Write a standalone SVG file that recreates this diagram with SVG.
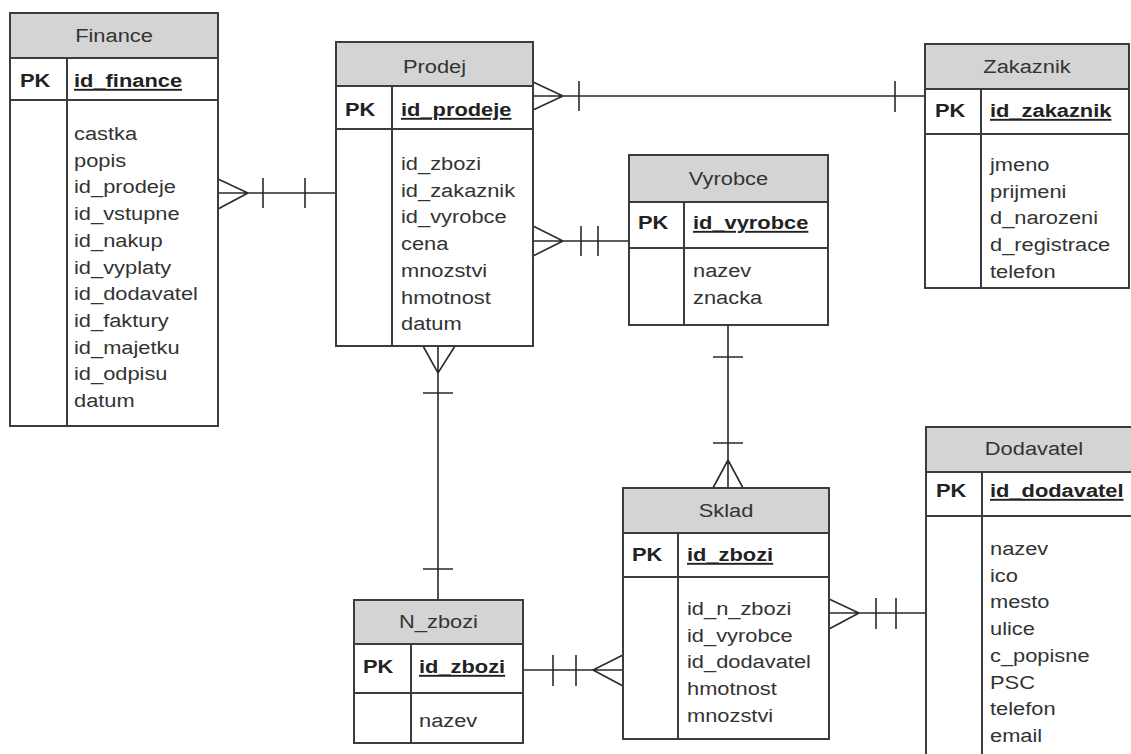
<svg xmlns="http://www.w3.org/2000/svg" width="1131" height="754" viewBox="0 0 1131 754">
<style>
.box{fill:#fff;stroke:#3c3c3c;stroke-width:2}
.hdr{fill:#d4d4d4;stroke:#3c3c3c;stroke-width:2}
.ln{stroke:#3c3c3c;stroke-width:2;fill:none}
text{font-family:"Liberation Sans",Arial,sans-serif;font-size:19px;fill:#333}
.t{text-anchor:middle}
.pk{font-weight:bold;fill:#222}
.key{font-weight:bold;fill:#222;text-decoration:underline}
.c{stroke:#2a2a2a;stroke-width:1.6;fill:none}
</style>
<rect width="1131" height="754" fill="#fff"/>
<g id="connectors">
<path class="c" d="M218,193H336M218,179L248,193L218,209M263,178V208M305,178V208"/>
<path class="c" d="M533,96H925M533,82L563,96L533,110M579,81V111M895,81V112"/>
<path class="c" d="M533,241H629M533,226L563,241L533,256M581,226V256M598,226V256"/>
<path class="c" d="M438,346V600M423,346L438,373L455,346M423,393H453M423,569H453"/>
<path class="c" d="M728,325V488M713,357H743M713,443H743M713,488L728,460L743,488"/>
<path class="c" d="M523,670H623M553,655V686M576,655V686M623,655L593,670L623,686"/>
<path class="c" d="M829,613H927M829,599L859,613L829,629M876,598V629M896,598V629"/>
</g>
<g id="Finance">
<rect class="box" x="10" y="13" width="208" height="413"/>
<rect class="hdr" x="10" y="13" width="208" height="45"/>
<path class="ln" d="M10,100H218M67,58V426"/>
<text class="t" transform="translate(114,42) scale(1.15,1)">Finance</text>
<text class="pk" transform="translate(20,87) scale(1.15,1)">PK</text>
<text class="key" transform="translate(74,87) scale(1.15,1)">id_finance</text>
<text transform="translate(74,140) scale(1.15,1)">castka</text>
<text transform="translate(74,166.7) scale(1.15,1)">popis</text>
<text transform="translate(74,193.4) scale(1.15,1)">id_prodeje</text>
<text transform="translate(74,220.1) scale(1.15,1)">id_vstupne</text>
<text transform="translate(74,246.8) scale(1.15,1)">id_nakup</text>
<text transform="translate(74,273.5) scale(1.15,1)">id_vyplaty</text>
<text transform="translate(74,300.2) scale(1.15,1)">id_dodavatel</text>
<text transform="translate(74,326.9) scale(1.15,1)">id_faktury</text>
<text transform="translate(74,353.6) scale(1.15,1)">id_majetku</text>
<text transform="translate(74,380.3) scale(1.15,1)">id_odpisu</text>
<text transform="translate(74,407) scale(1.15,1)">datum</text>
</g>
<g id="Prodej">
<rect class="box" x="336" y="42" width="197" height="304"/>
<rect class="hdr" x="336" y="42" width="197" height="44"/>
<path class="ln" d="M336,129H533M392,86V346"/>
<text class="t" transform="translate(434.5,73) scale(1.15,1)">Prodej</text>
<text class="pk" transform="translate(345,116) scale(1.15,1)">PK</text>
<text class="key" transform="translate(401,116) scale(1.15,1)">id_prodeje</text>
<text transform="translate(401,170) scale(1.15,1)">id_zbozi</text>
<text transform="translate(401,196.7) scale(1.15,1)">id_zakaznik</text>
<text transform="translate(401,223.4) scale(1.15,1)">id_vyrobce</text>
<text transform="translate(401,250.1) scale(1.15,1)">cena</text>
<text transform="translate(401,276.8) scale(1.15,1)">mnozstvi</text>
<text transform="translate(401,303.5) scale(1.15,1)">hmotnost</text>
<text transform="translate(401,330.2) scale(1.15,1)">datum</text>
</g>
<g id="Zakaznik">
<rect class="box" x="925" y="44" width="204" height="244"/>
<rect class="hdr" x="925" y="44" width="204" height="45"/>
<path class="ln" d="M925,134H1129M981,89V288"/>
<text class="t" transform="translate(1027,73) scale(1.15,1)">Zakaznik</text>
<text class="pk" transform="translate(935,117) scale(1.15,1)">PK</text>
<text class="key" transform="translate(990,117) scale(1.15,1)">id_zakaznik</text>
<text transform="translate(990,171) scale(1.15,1)">jmeno</text>
<text transform="translate(990,197.7) scale(1.15,1)">prijmeni</text>
<text transform="translate(990,224.4) scale(1.15,1)">d_narozeni</text>
<text transform="translate(990,251.1) scale(1.15,1)">d_registrace</text>
<text transform="translate(990,277.8) scale(1.15,1)">telefon</text>
</g>
<g id="Vyrobce">
<rect class="box" x="629" y="155" width="199" height="170"/>
<rect class="hdr" x="629" y="155" width="199" height="47"/>
<path class="ln" d="M629,248H828M684,202V325"/>
<text class="t" transform="translate(728.5,185) scale(1.15,1)">Vyrobce</text>
<text class="pk" transform="translate(638,229) scale(1.15,1)">PK</text>
<text class="key" transform="translate(693,229) scale(1.15,1)">id_vyrobce</text>
<text transform="translate(693,277) scale(1.15,1)">nazev</text>
<text transform="translate(693,304) scale(1.15,1)">znacka</text>
</g>
<g id="Sklad">
<rect class="box" x="623" y="488" width="206" height="251"/>
<rect class="hdr" x="623" y="488" width="206" height="45"/>
<path class="ln" d="M623,577H829M678,533V739"/>
<text class="t" transform="translate(726,517) scale(1.15,1)">Sklad</text>
<text class="pk" transform="translate(632,561) scale(1.15,1)">PK</text>
<text class="key" transform="translate(687,561) scale(1.15,1)">id_zbozi</text>
<text transform="translate(687,615) scale(1.15,1)">id_n_zbozi</text>
<text transform="translate(687,641.7) scale(1.15,1)">id_vyrobce</text>
<text transform="translate(687,668.4) scale(1.15,1)">id_dodavatel</text>
<text transform="translate(687,695.1) scale(1.15,1)">hmotnost</text>
<text transform="translate(687,721.8) scale(1.15,1)">mnozstvi</text>
</g>
<g id="N_zbozi">
<rect class="box" x="354" y="600" width="169" height="143"/>
<rect class="hdr" x="354" y="600" width="169" height="44"/>
<path class="ln" d="M354,693H523M411,644V743"/>
<text class="t" transform="translate(438.5,628) scale(1.15,1)">N_zbozi</text>
<text class="pk" transform="translate(363,673) scale(1.15,1)">PK</text>
<text class="key" transform="translate(419,673) scale(1.15,1)">id_zbozi</text>
<text transform="translate(419,727) scale(1.15,1)">nazev</text>
</g>
<g id="Dodavatel">
<rect class="box" x="926" y="427" width="216" height="340"/>
<rect class="hdr" x="926" y="427" width="216" height="45"/>
<path class="ln" d="M926,516H1142M982,472V767"/>
<text class="t" transform="translate(1034,455) scale(1.15,1)">Dodavatel</text>
<text class="pk" transform="translate(936,497) scale(1.15,1)">PK</text>
<text class="key" transform="translate(990,497) scale(1.15,1)">id_dodavatel</text>
<text transform="translate(990,555) scale(1.15,1)">nazev</text>
<text transform="translate(990,581.7) scale(1.15,1)">ico</text>
<text transform="translate(990,608.4) scale(1.15,1)">mesto</text>
<text transform="translate(990,635.1) scale(1.15,1)">ulice</text>
<text transform="translate(990,661.8) scale(1.15,1)">c_popisne</text>
<text transform="translate(990,688.5) scale(1.15,1)">PSC</text>
<text transform="translate(990,715.2) scale(1.15,1)">telefon</text>
<text transform="translate(990,741.9) scale(1.15,1)">email</text>
</g>
</svg>
